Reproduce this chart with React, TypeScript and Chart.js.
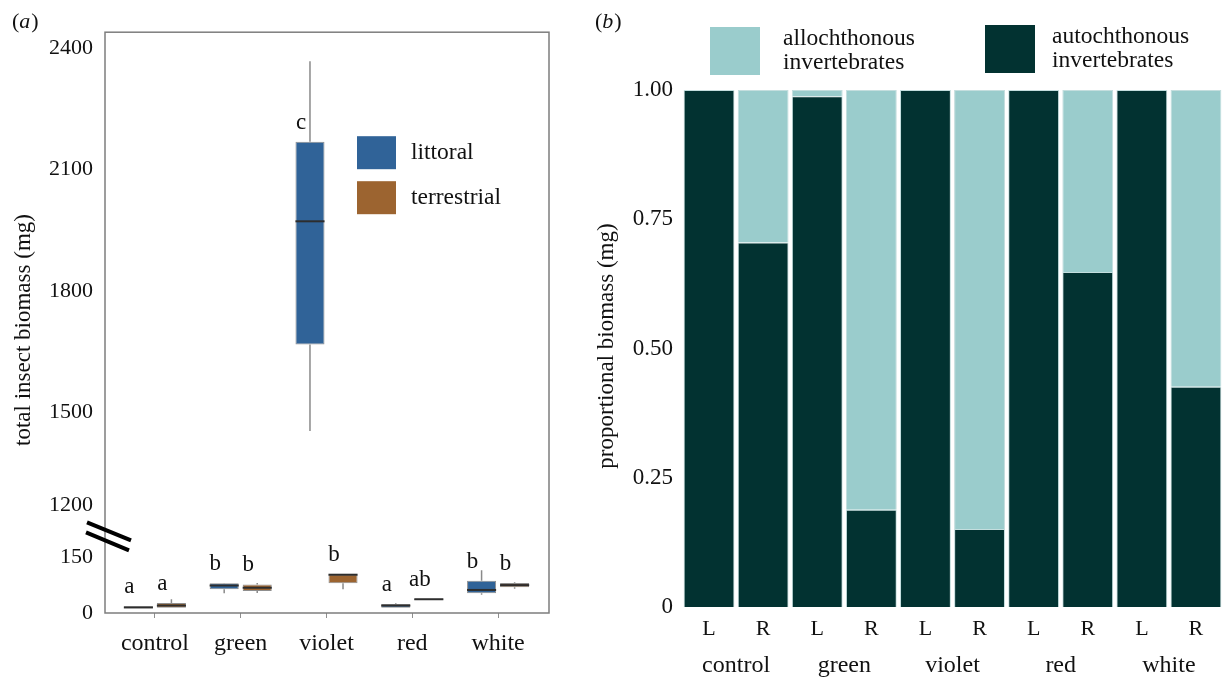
import React, { useEffect, useRef } from 'react';
import { Chart, registerables, LinearScale } from 'chart.js';

Chart.register(...registerables);

// ---------- Panel (a): box plots ----------
const CATEGORIES = ['control', 'green', 'violet', 'red', 'white'];
const LITTORAL_Q1 = [13, 64, 1667, 14, 53];
const LITTORAL_MEDIAN = [15, 74, 1972, 20, 62];
const LITTORAL_Q3 = [18, 80, 2169, 24, 87];
const LITTORAL_MIN = [13, 53, 1439, 14, 49];
const LITTORAL_MAX = [18, 81, 2368, 26, 115];
const TERRESTRIAL_Q1 = [14, 59, 80, 35, 69];
const TERRESTRIAL_MEDIAN = [20, 68, 103, 37, 75];
const TERRESTRIAL_Q3 = [27, 77, 104, 38, 81];
const TERRESTRIAL_MIN = [14, 54, 64, 35, 65];
const TERRESTRIAL_MAX = [37, 81, 104, 38, 83];
const LITTORAL_LETTERS = ['a', 'b', 'c', 'a', 'b'];
const TERRESTRIAL_LETTERS = ['a', 'b', 'b', 'ab', 'b'];
const BIOMASS_TICKS = [0, 150, 1200, 1500, 1800, 2100, 2400];
// broken axis: value anchors and the share of the axis height they reach
const BREAK_VALUES = [0, 150, 1200, 1500, 2440];
const BREAK_FRACTIONS = [0, 0.096, 0.185, 0.346, 1];

// ---------- Panel (b): proportional stacked bars ----------
const BAR_LABELS = ['L', 'R', 'L', 'R', 'L', 'R', 'L', 'R', 'L', 'R'];
const GROUPS = ['control', 'green', 'violet', 'red', 'white'];
const AUTOCHTHONOUS = [1.0, 0.705, 0.988, 0.188, 1.0, 0.151, 1.0, 0.648, 1.0, 0.426];
const ALLOCHTHONOUS = [0, 0.295, 0.012, 0.812, 0, 0.849, 0, 0.352, 0, 0.574];
const PROPORTION_TICKS = [0, 0.25, 0.5, 0.75, 1];

const SERIF = '"Liberation Serif", "DejaVu Serif", "Times New Roman", serif';
const TEXT = '#111';
const LITTORAL_COLOR = '#306398';
const TERRESTRIAL_COLOR = '#9c6430';
const DARK = '#023231';
const LIGHT = '#9acccc';

Chart.defaults.font.family = SERIF;
Chart.defaults.color = TEXT;

class BrokenLinearScale extends LinearScale {
  static id = 'brokenLinear';
  static defaults = { ...(LinearScale as any).defaults };
  toFraction(v: number) {
    const V = BREAK_VALUES, F = BREAK_FRACTIONS;
    if (v <= V[0]) return F[0] + (v - V[0]) * (F[1] - F[0]) / (V[1] - V[0]);
    for (let i = 1; i < V.length; i++) {
      if (v <= V[i]) return F[i - 1] + (v - V[i - 1]) * (F[i] - F[i - 1]) / (V[i] - V[i - 1]);
    }
    const n = V.length - 1;
    return F[n] + (v - V[n]) * (F[n] - F[n - 1]) / (V[n] - V[n - 1]);
  }
  fromFraction(f: number) {
    const V = BREAK_VALUES, F = BREAK_FRACTIONS;
    for (let i = 1; i < F.length; i++) {
      if (f <= F[i]) return V[i - 1] + (f - F[i - 1]) * (V[i] - V[i - 1]) / (F[i] - F[i - 1]);
    }
    const n = F.length - 1;
    return V[n] + (f - F[n]) * (V[n] - V[n - 1]) / (F[n] - F[n - 1]);
  }
  getPixelForValue(value: any) {
    if (value === null || value === undefined || isNaN(value)) return NaN;
    return (this as any).getPixelForDecimal(this.toFraction(+value));
  }
  getValueForPixel(pixel: number) {
    return this.fromFraction((this as any).getDecimalForPixel(pixel));
  }
}
Chart.register(BrokenLinearScale as any);

const SERIES = [
  { q1: LITTORAL_Q1, med: LITTORAL_MEDIAN, q3: LITTORAL_Q3, lo: LITTORAL_MIN, hi: LITTORAL_MAX, letters: LITTORAL_LETTERS },
  { q1: TERRESTRIAL_Q1, med: TERRESTRIAL_MEDIAN, q3: TERRESTRIAL_Q3, lo: TERRESTRIAL_MIN, hi: TERRESTRIAL_MAX, letters: TERRESTRIAL_LETTERS },
];

function panelLabel(ctx: CanvasRenderingContext2D, x: number, y: number, letter: string) {
  ctx.save();
  ctx.fillStyle = TEXT;
  ctx.textBaseline = 'middle';
  ctx.textAlign = 'left';
  ctx.font = `22px ${SERIF}`;
  ctx.fillText('(', x, y);
  let w = ctx.measureText('(').width;
  ctx.font = `italic 22px ${SERIF}`;
  ctx.fillText(letter, x + w, y);
  w += ctx.measureText(letter).width;
  ctx.font = `22px ${SERIF}`;
  ctx.fillText(')', x + w + 1, y);
  ctx.restore();
}

function verticalTitle(ctx: CanvasRenderingContext2D, x: number, y: number, text: string) {
  ctx.save();
  ctx.translate(x, y);
  ctx.rotate(-Math.PI / 2);
  ctx.fillStyle = TEXT;
  ctx.font = `23px ${SERIF}`;
  ctx.textAlign = 'center';
  ctx.textBaseline = 'middle';
  ctx.fillText(text, 0, 0);
  ctx.restore();
}

const boxPlugin = {
  id: 'boxDecor',
  beforeDatasetsDraw(chart: any) {
    const { ctx } = chart;
    const y = chart.scales.y;
    ctx.save();
    ctx.strokeStyle = '#8a8a8a';
    ctx.lineWidth = 1.5;
    SERIES.forEach((s, d) => {
      const meta = chart.getDatasetMeta(d);
      meta.data.forEach((el: any, i: number) => {
        ctx.beginPath();
        ctx.moveTo(el.x, y.getPixelForValue(s.lo[i]));
        ctx.lineTo(el.x, y.getPixelForValue(s.q1[i]));
        ctx.moveTo(el.x, y.getPixelForValue(s.q3[i]));
        ctx.lineTo(el.x, y.getPixelForValue(s.hi[i]));
        ctx.stroke();
      });
    });
    ctx.restore();
  },
  afterDatasetsDraw(chart: any) {
    const { ctx, chartArea } = chart;
    const y = chart.scales.y;
    ctx.save();
    // medians and letters
    SERIES.forEach((s, d) => {
      const meta = chart.getDatasetMeta(d);
      meta.data.forEach((el: any, i: number) => {
        const py = y.getPixelForValue(s.med[i]);
        ctx.strokeStyle = '#2d2d2d';
        ctx.lineWidth = 2;
        ctx.beginPath();
        ctx.moveTo(el.x - el.width / 2, py);
        ctx.lineTo(el.x + el.width / 2, py);
        ctx.stroke();
        ctx.fillStyle = TEXT;
        ctx.font = `23px ${SERIF}`;
        ctx.textAlign = 'center';
        ctx.textBaseline = 'middle';
        ctx.fillText(s.letters[i], el.x - 9, y.getPixelForValue(s.q3[i]) - 19);
      });
    });
    // frame
    const fl = chartArea.left - 7, fr = chartArea.right + 8;
    ctx.strokeStyle = '#7d7d7d';
    ctx.lineWidth = 1.5;
    ctx.strokeRect(fl, chartArea.top, fr - fl, chartArea.bottom - chartArea.top);
    // axis break marks
    const by = (y.getPixelForValue(150) + y.getPixelForValue(1200)) / 2 + 5;
    ctx.strokeStyle = '#000';
    ctx.lineWidth = 4;
    ctx.beginPath();
    ctx.moveTo(fl - 18, by - 14);
    ctx.lineTo(fl + 26, by + 4);
    ctx.moveTo(fl - 19, by - 4);
    ctx.lineTo(fl + 24, by + 14);
    ctx.stroke();
    // legend
    const lx = chartArea.left + 245, ly = chartArea.top + 104;
    const items = [
      { c: LITTORAL_COLOR, t: 'littoral' },
      { c: TERRESTRIAL_COLOR, t: 'terrestrial' },
    ];
    items.forEach((it, k) => {
      const top = ly + k * 45;
      ctx.fillStyle = it.c;
      ctx.fillRect(lx, top, 39, 33);
      ctx.fillStyle = TEXT;
      ctx.font = `23.5px ${SERIF}`;
      ctx.textAlign = 'left';
      ctx.textBaseline = 'middle';
      ctx.fillText(it.t, lx + 54, top + 17);
    });
    ctx.restore();
    verticalTitle(ctx, 24, 330, 'total insect biomass (mg)');
    panelLabel(ctx, 12, 22, 'a');
  },
};

const rightPlugin = {
  id: 'propDecor',
  afterDraw(chart: any) {
    const { ctx } = chart;
    ctx.save();
    const items = [
      { c: LIGHT, x: 135, y: 27, tx: 208, t: ['allochthonous', 'invertebrates'] },
      { c: DARK, x: 410, y: 25, tx: 477, t: ['autochthonous', 'invertebrates'] },
    ];
    items.forEach((it) => {
      ctx.fillStyle = it.c;
      ctx.fillRect(it.x, it.y, 50, 48);
      ctx.fillStyle = TEXT;
      ctx.font = `23.5px ${SERIF}`;
      ctx.textAlign = 'left';
      ctx.textBaseline = 'middle';
      ctx.fillText(it.t[0], it.tx, it.y + 12);
      ctx.fillText(it.t[1], it.tx, it.y + 36);
    });
    ctx.restore();
    verticalTitle(ctx, 32, 346, 'proportional biomass (mg)');
    panelLabel(ctx, 20, 22, 'b');
  },
};

export default function App() {
  const leftRef = useRef<HTMLCanvasElement>(null);
  const rightRef = useRef<HTMLCanvasElement>(null);

  useEffect(() => {
    const left = new Chart(leftRef.current as HTMLCanvasElement, {
      type: 'bar',
      data: {
        labels: CATEGORIES,
        datasets: [
          {
            label: 'littoral',
            data: LITTORAL_Q1.map((q, i) => [q, LITTORAL_Q3[i]]) as any,
            backgroundColor: LITTORAL_COLOR,
            borderColor: '#8f8f8f',
            borderWidth: 1,
            borderSkipped: false,
          },
          {
            label: 'terrestrial',
            data: TERRESTRIAL_Q1.map((q, i) => [q, TERRESTRIAL_Q3[i]]) as any,
            backgroundColor: TERRESTRIAL_COLOR,
            borderColor: '#8f8f8f',
            borderWidth: 1,
            borderSkipped: false,
          },
        ],
      },
      options: {
        responsive: false,
        animation: false,
        devicePixelRatio: 1,
        layout: { padding: { top: 29, right: 34, left: 0, bottom: 0 } },
        plugins: { legend: { display: false }, tooltip: { enabled: false } },
        datasets: { bar: { barPercentage: 0.88, categoryPercentage: 0.77 } },
        scales: {
          x: {
            offset: true,
            grid: { display: true, drawOnChartArea: false, drawTicks: true, tickLength: 5, color: '#8f8f8f', offset: false },
            border: { display: false },
            ticks: { font: { family: SERIF, size: 24 }, color: TEXT, padding: 11 },
            afterFit: (s: any) => { s.height = 64; },
          },
          y: {
            type: 'brokenLinear' as any,
            min: 0,
            max: 2440,
            afterBuildTicks: (s: any) => { s.ticks = BIOMASS_TICKS.map((v) => ({ value: v })); },
            ticks: { font: { family: SERIF, size: 22 }, color: TEXT, padding: 19, callback: (v: any) => String(v) },
            grid: { display: false, drawTicks: false },
            border: { display: false },
            afterFit: (s: any) => { s.width = 112; },
          } as any,
        },
      },
      plugins: [boxPlugin],
    });

    const right = new Chart(rightRef.current as HTMLCanvasElement, {
      type: 'bar',
      data: {
        labels: BAR_LABELS,
        datasets: [
          {
            label: 'autochthonous invertebrates',
            data: AUTOCHTHONOUS,
            backgroundColor: DARK,
            borderColor: '#c4dede',
            borderWidth: 1,
          },
          {
            label: 'allochthonous invertebrates',
            data: ALLOCHTHONOUS,
            backgroundColor: LIGHT,
            borderColor: '#c4dede',
            borderWidth: 1,
          },
        ],
      },
      options: {
        responsive: false,
        animation: false,
        devicePixelRatio: 1,
        layout: { padding: { top: 90, right: 0, left: 0, bottom: 0 } },
        plugins: { legend: { display: false }, tooltip: { enabled: false } },
        datasets: { bar: { barPercentage: 0.94, categoryPercentage: 1 } },
        scales: {
          x: {
            stacked: true,
            grid: { display: false, drawTicks: false },
            border: { display: false },
            ticks: { font: { family: SERIF, size: 22 }, color: TEXT, padding: 9 },
            afterFit: (s: any) => { s.height = 36; },
          },
          x2: {
            type: 'category',
            labels: GROUPS,
            position: 'bottom',
            weight: 1,
            offset: true,
            grid: { display: false, drawTicks: false },
            border: { display: false },
            ticks: { font: { family: SERIF, size: 24 }, color: TEXT, padding: 8 },
            afterFit: (s: any) => { s.height = 34; },
          } as any,
          y: {
            stacked: true,
            min: 0,
            max: 1,
            afterBuildTicks: (s: any) => { s.ticks = PROPORTION_TICKS.map((v) => ({ value: v })); },
            ticks: {
              font: { family: SERIF, size: 23 },
              color: TEXT,
              padding: 9,
              callback: (v: any) => (Number(v) === 0 ? '0' : Number(v).toFixed(2)),
            },
            grid: { display: false, drawTicks: false },
            border: { display: false },
            afterFit: (s: any) => { s.width = 107; },
          } as any,
        },
      },
      plugins: [rightPlugin],
    });

    return () => {
      left.destroy();
      right.destroy();
    };
  }, []);

  return (
    <div style={{ position: 'fixed', left: 0, top: 0, width: 1223, height: 677, background: '#fff' }}>
      <canvas ref={leftRef} width={575} height={677} style={{ position: 'absolute', left: 0, top: 0 }} />
      <canvas ref={rightRef} width={648} height={677} style={{ position: 'absolute', left: 575, top: 0 }} />
    </div>
  );
}
